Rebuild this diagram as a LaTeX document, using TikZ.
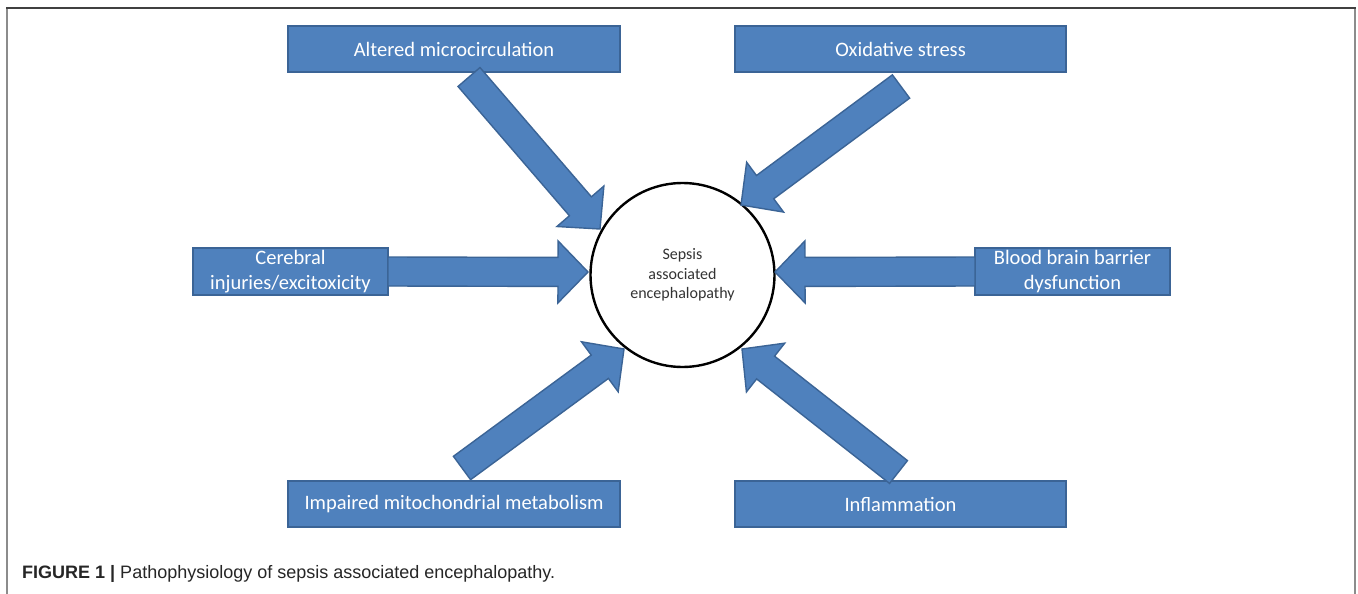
\documentclass[tikz,border=0pt]{standalone}
\usepackage{fontspec}
\setmainfont{Carlito}
\newfontfamily\capfont{Liberation Sans}
\usetikzlibrary{calc}
\definecolor{boxblue}{HTML}{4F81BD}
\definecolor{boxedge}{HTML}{3B6496}
\definecolor{captxt}{HTML}{262626}
\tikzset{
  factor/.style={rectangle, fill=boxblue, draw=boxedge, line width=1.4pt,
    text=white, font=\fontsize{20.5}{25}\selectfont, align=center,
    inner sep=0pt, outer sep=0pt},
  barrow/.style={fill=boxblue, draw=boxedge, line width=1.4pt, line join=miter},
  hub/.style={circle, draw=black, line width=2.4pt, fill=white,
    minimum size=184pt, inner sep=0pt, align=center, text=black!80,
    font=\fontsize{16}{19.5}\selectfont},
}
% block arrow from named tail to named tip
\newcommand{\blockarr}[2]{%
  \coordinate (nk) at ($(#2)!30pt!(#1)$);
  \draw[barrow] ($(#1)!14.5pt!90:(#2)$) -- ($(nk)!14.5pt!90:(#2)$)
    -- ($(nk)!31pt!90:(#2)$) -- (#2) -- ($(nk)!31pt!-90:(#2)$)
    -- ($(nk)!14.5pt!-90:(#2)$) -- ($(#1)!14.5pt!-90:(#2)$) -- cycle;
}
\begin{document}
\begin{tikzpicture}[x=1pt,y=-1pt]
\useasboundingbox (0,0) rectangle (1358,594);
\fill[white] (0,0) rectangle (1358,594);
% frame
\draw[gray!90, line width=2pt] (7,594) -- (7,8);
\draw[gray!90, line width=2pt] (1355,594) -- (1355,8);
\draw[black!75, line width=1.6pt] (6,8) -- (1356,8);

% factor boxes
\node[factor, minimum width=332pt, minimum height=46pt] (amc) at (454,49) {Altered microcirculation};
\node[factor, minimum width=331pt, minimum height=46pt] (ox) at (900.5,49) {Oxidative stress};
\node[factor, minimum width=195pt, minimum height=47pt] (cer) at (290.5,271.5) {Cerebral\\injuries/excitoxicity};
\node[factor, minimum width=195pt, minimum height=47pt] (bbb) at (1072.5,271.5) {Blood brain barrier\\dysfunction};
\node[factor, minimum width=332pt, minimum height=46pt] (mito) at (454,504) {Impaired mitochondrial metabolism};
\node[factor, minimum width=331pt, minimum height=46pt] (infl) at (900.5,504) {Inflammation};

% centre
\node[hub] (sae) at (682.5,275) {Sepsis\\associated\\encephalopathy};

% arrow ends
\coordinate (t1) at (469,77);    \coordinate (h1) at (600,229);
\coordinate (t2) at (901,86.5);  \coordinate (h2) at (741,205);
\coordinate (t3) at (cer.east);  \coordinate (h3) at (588,272);
\coordinate (t4) at (bbb.west);  \coordinate (h4) at (775,272);
\coordinate (t5) at (462,468);   \coordinate (h5) at (624,349);
\coordinate (t6) at (898.5,472); \coordinate (h6) at (742,349);

\blockarr{t1}{h1}
\blockarr{t2}{h2}
\blockarr{t3}{h3}
\blockarr{t4}{h4}
\blockarr{t5}{h5}
\blockarr{t6}{h6}

% caption
\node[anchor=west, inner sep=0pt, text=captxt, font=\capfont\fontsize{18}{22}\selectfont] (cap) at (22,574)
  {\textbf{FIGURE 1 |} Pathophysiology of sepsis associated encephalopathy.};
\end{tikzpicture}
\end{document}
